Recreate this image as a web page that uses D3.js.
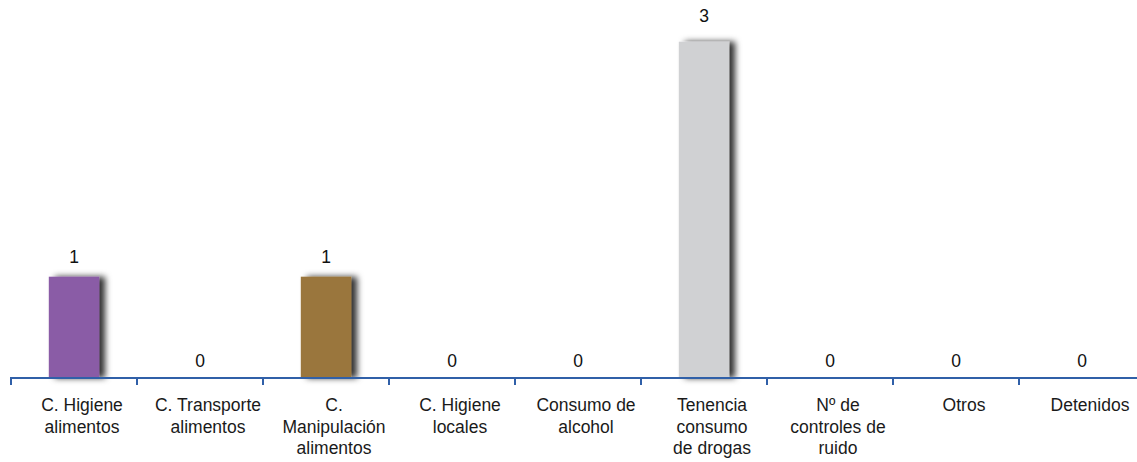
<!DOCTYPE html>
<html><head><meta charset="utf-8">
<script src="https://cdn.jsdelivr.net/npm/d3@7"></script>
<style>body{margin:0;background:#fff}svg{display:block}</style>
</head><body>
<svg id="c" width="1137" height="462"></svg>
<script>
const categories = [
  ["C. Higiene","alimentos"],
  ["C. Transporte","alimentos"],
  ["C.","Manipulación","alimentos"],
  ["C. Higiene","locales"],
  ["Consumo de","alcohol"],
  ["Tenencia","consumo","de drogas"],
  ["Nº de","controles de","ruido"],
  ["Otros"],
  ["Detenidos"]
];
const values = [1, 0, 1, 0, 0, 3, 0, 0, 0];
const colors = ["#8a5ca6", "#8a5ca6", "#9a763c", "#9a763c", "#d0d1d3", "#d0d1d3", "#d0d1d3", "#d0d1d3", "#d0d1d3"];

const svg = d3.select("#c");
const FONT = "Liberation Sans, Arial, Helvetica, sans-serif";
const axisY = 378;
const keys = categories.map(d => d.join(" "));
const x = d3.scaleBand().domain(keys).range([11, 1145]).padding(0);
const y = d3.scaleLinear().domain([0, 3]).range([394.2, 41.7]);
const bw = x.bandwidth();

const defs = svg.append("defs");
const f = defs.append("filter").attr("id","sh")
  .attr("x","-30%").attr("y","-30%").attr("width","180%").attr("height","160%");
f.append("feDropShadow").attr("dx",6).attr("dy",0).attr("stdDeviation",3)
  .attr("flood-color","#000").attr("flood-opacity",0.8);

// bars
const data = values.map((v,i) => ({k: keys[i], v, c: colors[i]}));
svg.append("g").selectAll("rect").data(data.filter(d => d.v > 0)).join("rect")
  .attr("x", d => x(d.k) + bw*0.3)
  .attr("width", bw*0.4)
  .attr("y", d => y(d.v))
  .attr("height", d => axisY - y(d.v))
  .attr("fill", d => d.c)
  .attr("filter","url(#sh)");

// value labels
svg.append("g").selectAll("text").data(data).join("text")
  .attr("x", d => x(d.k) + bw/2)
  .attr("y", d => Math.min(y(d.v), axisY) - (11 + 3*d.v))
  .attr("text-anchor","middle")
  .attr("font-family", FONT)
  .attr("font-size", 17.5)
  .attr("fill","#111")
  .text(d => d.v);

// axis
const ax = svg.append("g");
ax.append("line").attr("x1", x.range()[0]-1).attr("x2", x.range()[1])
  .attr("y1", axisY).attr("y2", axisY)
  .attr("stroke","#3060a8").attr("stroke-width",2.2);
const bounds = keys.map(k => x(k)).concat([x.range()[1]]);
ax.selectAll("line.t").data(bounds).join("line").attr("class","t")
  .attr("x1", d => d).attr("x2", d => d)
  .attr("y1", axisY).attr("y2", axisY+7)
  .attr("stroke","#3060a8").attr("stroke-width",2);

// category labels
const lab = svg.append("g")
  .attr("font-family", FONT)
  .attr("font-size", 17.5).attr("fill","#1a1a1a").attr("text-anchor","middle");
categories.forEach((lines,i) => {
  const cx = x(keys[i]) + bw/2 + 8;
  const t = lab.append("text").attr("x", cx).attr("y", 411);
  lines.forEach((l,j) => t.append("tspan").attr("x", cx).attr("y", 411 + j*21.7).text(l));
});
</script>
</body></html>
